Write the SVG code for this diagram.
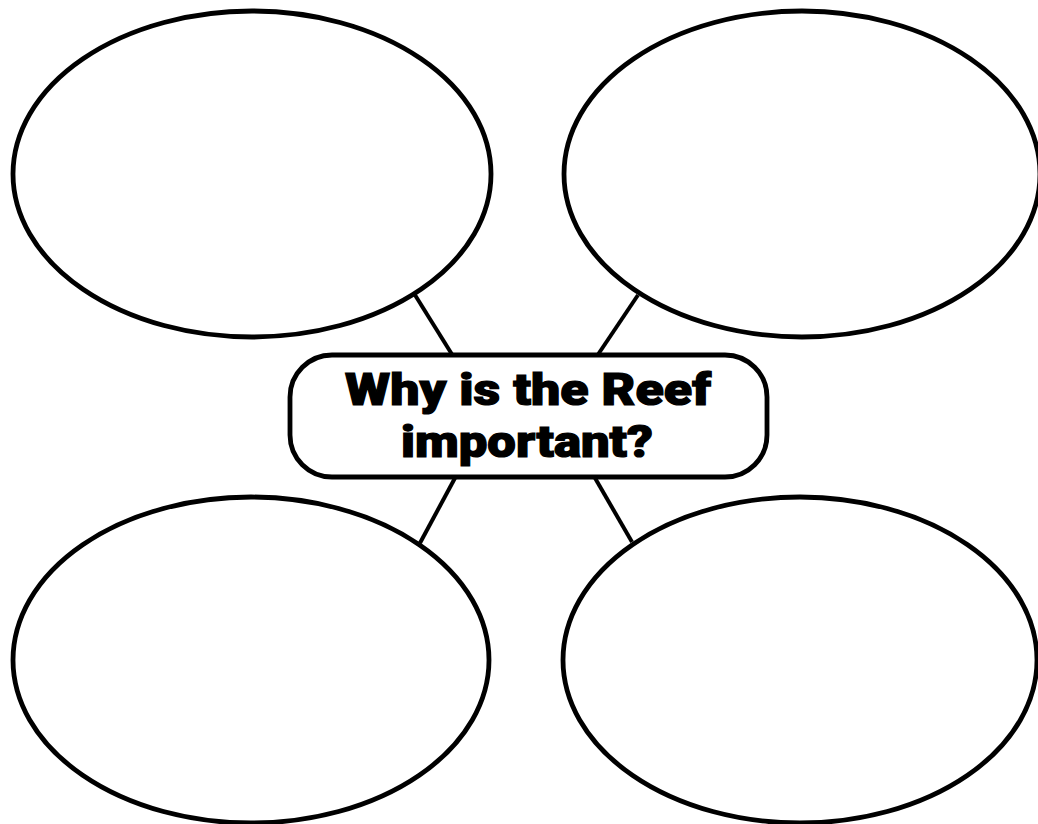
<svg xmlns="http://www.w3.org/2000/svg" width="1038" height="824" viewBox="0 0 1038 824">
<style>
.n{fill:#fff;stroke:#000;stroke-width:4.8}
.c{stroke:#000;stroke-width:4;fill:none}
.t{font-family:Roboto,"Liberation Sans",sans-serif;font-weight:900;font-size:44px;fill:#000;stroke:#000;stroke-width:1.2;text-anchor:middle}
</style>
<rect width="1038" height="824" fill="#fff"/>
<g id="connectors">
<line class="c" x1="415" y1="295" x2="453" y2="356"/>
<line class="c" x1="638" y1="295" x2="597" y2="356"/>
<line class="c" x1="455" y1="478" x2="420" y2="543"/>
<line class="c" x1="595" y1="478" x2="632" y2="542"/>
</g>
<g id="node-tl"><ellipse class="n" cx="252" cy="174" rx="239" ry="163"/></g>
<g id="node-tr"><ellipse class="n" cx="802" cy="174" rx="238" ry="163"/></g>
<g id="node-bl"><ellipse class="n" cx="251" cy="660" rx="238" ry="163"/></g>
<g id="node-br"><ellipse class="n" cx="800" cy="660" rx="237" ry="163"/></g>
<g id="node-center">
<rect class="n" x="290" y="355" width="477" height="122" rx="42" ry="42"/>
<text class="t" x="528" y="405" textLength="366" lengthAdjust="spacingAndGlyphs">Why is the Reef</text>
<text class="t" x="527" y="457" textLength="252" lengthAdjust="spacingAndGlyphs">important?</text>
</g>
</svg>
